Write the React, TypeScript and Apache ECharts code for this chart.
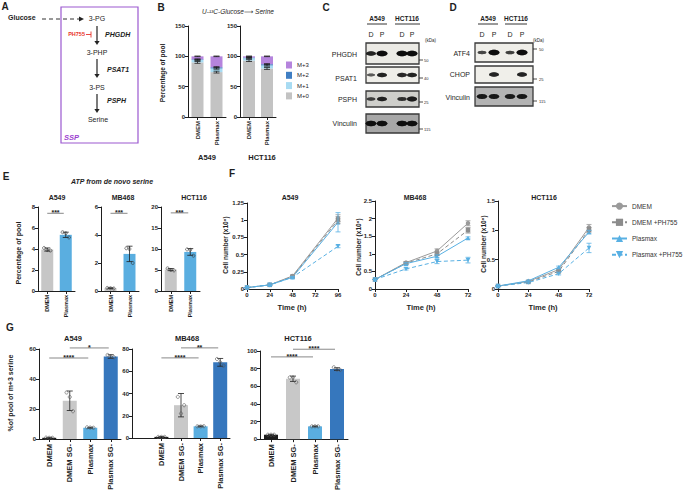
import React, { useEffect, useRef } from "react";
import * as echarts from "echarts";

const FONT = "'Liberation Sans', Arial, 'DejaVu Sans', sans-serif";
const INK = "#1e1e1e";

// ---------- Panel B : U-13C-glucose -> serine isotopologues ----------
const B_CATS = ["DMEM", "Plasmax"];
const B_CELL_LINES = ["A549", "HCT116"];
const B_ISOTOPOLOGUES = ["M+0", "M+1", "M+2", "M+3"];
const B_LEGEND_ORDER = ["M+3", "M+2", "M+1", "M+0"];
const B_COLORS = ["#c3c3c3", "#a8dbf2", "#3f7ec3", "#b584dd"];
const B_A549 = [[90, 74], [4, 6], [1, 2], [5, 18]];
const B_HCT116 = [[93, 80], [4, 5], [1, 2], [2, 13]];
const B_SD = [[1.5, 1.5], [1, 1.2], [0.8, 1], [0.5, 0.5]];

// ---------- Panel E : ATP from de novo serine ----------
const E_CATS = ["DMEM", "Plasmax"];
const E_CELL_LINES = ["A549", "MB468", "HCT116"];
const E_COLORS = ["#c6c6c6", "#5aaee0"];
const E_MEAN = [[3.95, 5.35], [0.2, 2.65], [5.1, 9.3]];
const E_SD = [[0.15, 0.25], [0.03, 0.55], [0.25, 0.8]];
const E_PTS = [
  [[4.1, 3.9, 3.85], [5.6, 5.5, 5.1]],
  [[0.22, 0.2, 0.18], [3.05, 3.0, 2.0]],
  [[5.4, 5.0, 4.9], [9.9, 9.8, 8.4]],
];
const E_YMAX = [8, 6, 20];
const E_YINT = [2, 2, 5];
const E_SIG_Y = [7.4, 5.55, 18.6];
const E_STARS = ["***", "***", "***"];

// ---------- Panel F : growth curves ----------
const F_CELL_LINES = ["A549", "MB468", "HCT116"];
const F_CONDITIONS = ["DMEM", "DMEM +PH755", "Plasmax", "Plasmax +PH755"];
const F_COLORS = ["#9a9a9a", "#8c8c8c", "#58b0e3", "#58b0e3"];
const F_SYMBOLS = ["circle", "rect", "triangle", "triangle"];
const F_DASHED = [false, true, false, true];
const F_TIMES = [[0, 24, 48, 96], [0, 24, 48, 72], [0, 24, 48, 72]];
const F_XMAX = [96, 72, 72];
const F_YMAX = [1.25, 2.5, 1.5];
const F_YINT = [0.25, 0.5, 0.5];
const F_MEAN = [
  [[0.02, 0.06, 0.19, 1.03], [0.02, 0.06, 0.18, 1.0], [0.02, 0.06, 0.17, 0.97], [0.02, 0.06, 0.17, 0.62]],
  [[0.27, 0.75, 1.08, 1.87], [0.27, 0.73, 1.0, 1.67], [0.27, 0.72, 0.93, 1.45], [0.27, 0.57, 0.78, 0.82]],
  [[0.05, 0.13, 0.33, 1.05], [0.05, 0.12, 0.3, 1.01], [0.05, 0.14, 0.37, 0.97], [0.05, 0.11, 0.26, 0.7]],
];
const F_SD = [
  [[0, 0.01, 0.01, 0.05], [0, 0.01, 0.01, 0.05], [0, 0.01, 0.01, 0.14], [0, 0.01, 0.01, 0.02]],
  [[0, 0.03, 0.06, 0.07], [0, 0.03, 0.05, 0.08], [0, 0.03, 0.04, 0.03], [0, 0.03, 0.06, 0.08]],
  [[0, 0.01, 0.02, 0.05], [0, 0.01, 0.02, 0.04], [0, 0.01, 0.02, 0.03], [0, 0.01, 0.02, 0.08]],
];

// ---------- Panel G : % of pool of m+3 serine ----------
const G_CATS = ["DMEM", "DMEM SG-", "Plasmax", "Plasmax SG-"];
const G_CELL_LINES = ["A549", "MB468", "HCT116"];
const G_COLORS = ["#1c1c1c", "#c8c8c8", "#5aaee0", "#3677bd"];
const G_MEAN = [[0.8, 25.5, 7.5, 55], [1, 29.5, 10.5, 68], [5, 68.5, 14.5, 79.5]];
const G_SD = [[0.3, 6.5, 0.3, 1.2], [0.3, 10.5, 0.4, 3.5], [0.5, 3, 0.5, 1.5]];
const G_PTS = [
  [[0.9, 0.8, 0.8], [31, 28, 18.5], [7.8, 7.6, 7.5], [56, 55, 54.5]],
  [[1, 1, 1], [37, 22, 29.5], [10.5, 10.4, 10.6], [71, 68, 65]],
  [[5, 5, 5], [70, 70, 64.5], [14.5, 14.6, 14.5], [81.5, 79, 78.5]],
];
const G_YMAX = [60, 80, 100];
const G_YINT = [20, 20, 20];
const G_SIG = [
  [[0, 2, 54], [1, 3, 60.7]],
  [[0, 2, 72], [1, 3, 81]],
  [[0, 2, 93.3], [1, 3, 102]],
];
const G_STARS = [["****", "*"], ["****", "**"], ["****", "****"]];

// ---------- Panels C & D : western blots ----------
const C_CELL_LINES = ["A549", "HCT116"];
const C_LANES = ["D", "P", "D", "P"];
const C_PROTEINS = ["PHGDH", "PSAT1", "PSPH", "Vinculin"];
const C_BANDS = [[0.75, 1, 1, 1], [0.3, 0.75, 0.7, 0.75], [0.45, 0.75, 0.6, 0.8], [0.95, 0.95, 0.95, 0.95]];
const C_MARKERS = ["50", "40", "25", "115"];
const D_PROTEINS = ["ATF4", "CHOP", "Vinculin"];
const D_BANDS = [[0.45, 1, 0.5, 1], [0, 0.75, 0, 0.75], [0.85, 0.85, 0.8, 0.85]];
const D_MARKERS = ["50", "25", "115"];

// ---------- Layout (pixels) ----------
const B_GRIDS = [
  { left: 188, top: 26, width: 38, height: 91 },
  { left: 240, top: 26, width: 36, height: 91 },
];
const E_GRIDS = [
  { left: 38, top: 207, width: 37, height: 84 },
  { left: 101, top: 207, width: 38, height: 84 },
  { left: 161, top: 207, width: 39, height: 84 },
];
const F_GRIDS = [
  { left: 247, top: 203, width: 91, height: 86 },
  { left: 375, top: 201, width: 93, height: 88 },
  { left: 498, top: 201, width: 91, height: 88 },
];
const G_GRIDS = [
  { left: 39, top: 349, width: 82, height: 90, pad: false },
  { left: 132, top: 349, width: 98, height: 89, pad: true },
  { left: 260, top: 351, width: 88, height: 89, pad: false },
];

const axisBase = {
  axisLine: { show: true, onZero: false, lineStyle: { color: INK, width: 1 } },
  axisTick: { show: true, length: 3, lineStyle: { color: INK, width: 1 } },
  splitLine: { show: false },
  axisLabel: { fontFamily: FONT, fontSize: 6, fontWeight: "bold", color: INK, margin: 3 },
};

function catX(cats: string[], extraLabel: any = {}, pad = false) {
  const filt = pad ? (i: number) => i > 0 : 0;
  return {
    type: "category",
    data: pad ? ["", ...cats] : cats,
    ...axisBase,
    axisTick: { ...axisBase.axisTick, alignWithLabel: true, interval: filt },
    axisLabel: { ...axisBase.axisLabel, rotate: 90, interval: filt, ...extraLabel },
  };
}
function valAxis(min: number, max: number, interval: number) {
  return { type: "value", min, max, interval, ...axisBase };
}

function errSeries(idx: number, data: number[][], color: string, cap: number, lw = 0.8, z = 6) {
  return {
    type: "custom",
    xAxisIndex: idx,
    yAxisIndex: idx,
    silent: true,
    clip: false,
    z,
    data,
    encode: { x: 0, y: 1 },
    renderItem: (params: any, api: any) => {
      const x = api.value(0), m = api.value(1), s = api.value(2);
      const t = api.coord([x, m + s]);
      const b = api.coord([x, m - s]);
      const st = () => ({ stroke: color, lineWidth: lw });
      return {
        type: "group",
        children: [
          { type: "line", shape: { x1: t[0], y1: t[1], x2: b[0], y2: b[1] }, style: st() },
          { type: "line", shape: { x1: t[0] - cap, y1: t[1], x2: t[0] + cap, y2: t[1] }, style: st() },
          { type: "line", shape: { x1: b[0] - cap, y1: b[1], x2: b[0] + cap, y2: b[1] }, style: st() },
        ],
      };
    },
  };
}

function ptsSeries(idx: number, pts: number[][], off: number, r = 1.6, stroke = "#333") {
  const data: number[][] = [];
  pts.forEach((arr, k) => arr.forEach((v, j) => data.push([k + off, v, j - (arr.length - 1) / 2])));
  return {
    type: "custom",
    xAxisIndex: idx,
    yAxisIndex: idx,
    silent: true,
    clip: false,
    z: 7,
    data,
    encode: { x: 0, y: 1 },
    renderItem: (params: any, api: any) => {
      const p = api.coord([api.value(0), api.value(1)]);
      return {
        type: "circle",
        shape: { cx: p[0] + api.value(2) * 3.2, cy: p[1], r },
        style: { fill: "none", stroke, lineWidth: 0.6 },
      };
    },
  };
}

function sigSeries(idx: number, rows: number[][], labels: string[], off: number) {
  return {
    type: "custom",
    xAxisIndex: idx,
    yAxisIndex: idx,
    silent: true,
    clip: false,
    z: 6,
    data: rows.map((r) => [r[0] + off, r[1] + off, r[2]]),
    encode: { x: 0, y: 2 },
    renderItem: (params: any, api: any) => {
      const a = api.coord([api.value(0), api.value(2)]);
      const b = api.coord([api.value(1), api.value(2)]);
      return {
        type: "group",
        children: [
          { type: "line", shape: { x1: a[0], y1: a[1], x2: b[0] - 2, y2: a[1] }, style: { stroke: "#6a6a6a", lineWidth: 0.8 } },
          {
            type: "text",
            x: (a[0] + b[0] - 2) / 2,
            y: a[1] + 3,
            style: { text: labels[params.dataIndex], fontFamily: FONT, fontSize: 7, fontWeight: "bold", fill: INK, align: "center", verticalAlign: "bottom" },
          },
        ],
      };
    },
  };
}

function T(x: number, y: number, text: string, o: any = {}) {
  return {
    type: "text",
    x,
    y,
    rotation: o.rot || 0,
    silent: true,
    style: {
      text,
      fontFamily: FONT,
      fontSize: o.size || 7,
      fontWeight: o.bold ? "bold" : "normal",
      fontStyle: o.italic ? "italic" : "normal",
      fill: o.color || INK,
      align: o.align || "center",
      verticalAlign: o.va || "middle",
    },
  };
}
function L(x1: number, y1: number, x2: number, y2: number, color = INK, w = 1, dash: any = null) {
  return { type: "line", silent: true, shape: { x1, y1, x2, y2 }, style: { stroke: color, lineWidth: w, lineDash: dash } };
}
function arrowDown(x: number, y1: number, y2: number) {
  return [
    L(x, y1, x, y2 - 3, "#222", 1.2),
    { type: "polygon", silent: true, shape: { points: [[x - 2.6, y2 - 4], [x + 2.6, y2 - 4], [x, y2]] }, style: { fill: "#222" } },
  ];
}

function blot(boxes: number[][], x0: number, x1: number, lanes: number[], bands: number[][], bgs: string[]) {
  const els: any[] = [];
  boxes.forEach((b, r) => {
    els.push({ type: "rect", silent: true, shape: { x: x0, y: b[0], width: x1 - x0, height: b[1] - b[0] }, style: { fill: bgs[r], stroke: "#3a3a3a", lineWidth: 1.3 } });
    const cy = (b[0] + b[1]) / 2;
    bands[r].forEach((I, li) => {
      if (I <= 0) return;
      els.push({
        type: "ellipse",
        silent: true,
        shape: { cx: lanes[li], cy, rx: 3.5 + 2 * I, ry: 0.8 + 2 * I },
        style: { fill: `rgba(12,12,12,${0.35 + 0.65 * I})`, shadowBlur: 1.5, shadowColor: "rgba(0,0,0,0.5)" },
      });
    });
  });
  return els;
}

function buildOption() {
  const grids: any[] = [], xAxes: any[] = [], yAxes: any[] = [], series: any[] = [];
  const addGrid = (g: any, xa: any, ya: any) => {
    const i = grids.length;
    grids.push({ left: g.left, top: g.top, width: g.width, height: g.height, containLabel: false });
    xAxes.push({ gridIndex: i, ...xa });
    yAxes.push({ gridIndex: i, ...ya });
    return i;
  };

  // Panel B
  B_CELL_LINES.forEach((cl, gi) => {
    const data = gi === 0 ? B_A549 : B_HCT116;
    const idx = addGrid(B_GRIDS[gi], catX(B_CATS, { fontSize: 6, margin: 4 }), valAxis(0, 150, 50));
    B_ISOTOPOLOGUES.forEach((iso, k) =>
      series.push({ type: "bar", name: iso, stack: "b" + gi, xAxisIndex: idx, yAxisIndex: idx, barWidth: 12, data: data[k], itemStyle: { color: B_COLORS[k] } })
    );
    const err: number[][] = [];
    B_CATS.forEach((c, ci) => {
      let cum = 0;
      B_ISOTOPOLOGUES.forEach((iso, k) => {
        cum += data[k][ci];
        err.push([ci, cum, B_SD[k][ci]]);
      });
    });
    series.push(errSeries(idx, err, INK, 3, 0.8));
  });

  // Panel E
  E_CELL_LINES.forEach((cl, gi) => {
    const idx = addGrid(E_GRIDS[gi], catX(E_CATS, { fontSize: 5.5, margin: 4 }), valAxis(0, E_YMAX[gi], E_YINT[gi]));
    series.push({ type: "bar", xAxisIndex: idx, yAxisIndex: idx, barWidth: 12, data: E_MEAN[gi].map((v, k) => ({ value: v, itemStyle: { color: E_COLORS[k] } })) });
    series.push(errSeries(idx, E_MEAN[gi].map((m, k) => [k, m, E_SD[gi][k]]), INK, 3, 0.8));
    series.push(ptsSeries(idx, E_PTS[gi], 0, 1.5));
    series.push(sigSeries(idx, [[0, 1, E_SIG_Y[gi]]], [E_STARS[gi]], 0));
  });

  // Panel F
  F_CELL_LINES.forEach((cl, gi) => {
    const idx = addGrid(F_GRIDS[gi], valAxis(0, F_XMAX[gi], 24), valAxis(0, F_YMAX[gi], F_YINT[gi]));
    F_CONDITIONS.forEach((cond, k) => {
      series.push({
        type: "line",
        name: cond,
        xAxisIndex: idx,
        yAxisIndex: idx,
        data: F_TIMES[gi].map((t, j) => [t, F_MEAN[gi][k][j]]),
        symbol: F_SYMBOLS[k],
        symbolRotate: k === 3 ? 180 : 0,
        symbolSize: 4.5,
        showSymbol: true,
        lineStyle: { color: F_COLORS[k], width: 1, type: F_DASHED[k] ? [4, 2.5] : "solid" },
        itemStyle: { color: F_COLORS[k] },
        z: 3,
      });
      series.push(errSeries(idx, F_TIMES[gi].map((t, j) => [t, F_MEAN[gi][k][j], F_SD[gi][k][j]]), F_COLORS[k], 2.5, 0.8, 4));
    });
  });

  // Panel G
  G_CELL_LINES.forEach((cl, gi) => {
    const g = G_GRIDS[gi];
    const off = g.pad ? 1 : 0;
    const idx = addGrid(g, catX(G_CATS, { fontSize: 7.5, margin: 5 }, g.pad), valAxis(0, G_YMAX[gi], G_YINT[gi]));
    const bars: any[] = G_MEAN[gi].map((v, k) => ({ value: v, itemStyle: { color: G_COLORS[k] } }));
    if (g.pad) bars.unshift("-");
    series.push({ type: "bar", xAxisIndex: idx, yAxisIndex: idx, barWidth: 14, data: bars });
    series.push(errSeries(idx, G_MEAN[gi].map((m, k) => [k + off, m, G_SD[gi][k]]), INK, 3, 0.8));
    series.push(ptsSeries(idx, G_PTS[gi], off, 1.6, "#555"));
    series.push(sigSeries(idx, G_SIG[gi], G_STARS[gi], off));
  });

  // ---------- graphics ----------
  const gr: any[] = [];
  // panel letters
  [["A", 5, 6], ["B", 161, 7], ["C", 326, 7], ["D", 453, 7], ["E", 6, 176], ["F", 232, 173], ["G", 10, 327]].forEach(([t, x, y]: any) =>
    gr.push(T(x, y, t, { size: 10, bold: true }))
  );

  // Panel A pathway
  gr.push({ type: "rect", silent: true, shape: { x: 61, y: 7, width: 77, height: 136 }, style: { fill: "none", stroke: "#9b59d0", lineWidth: 1.2 } });
  gr.push(T(8, 17, "Glucose", { bold: true, align: "left", size: 7 }));
  gr.push(L(42, 19, 80, 19, "#333", 1, [4, 3]));
  gr.push({ type: "polygon", silent: true, shape: { points: [[79, 16.6], [84, 19], [79, 21.4]] }, style: { fill: "#222" } });
  gr.push(T(97, 18, "3-PG", { size: 7 }));
  gr.push(...arrowDown(97, 26, 45));
  gr.push(T(85, 34, "PH755", { size: 5.5, bold: true, color: "#e8332a", align: "right" }));
  gr.push(L(86, 34.5, 91, 34.5, "#e8332a", 0.9));
  gr.push(L(91, 31.5, 91, 37.5, "#e8332a", 0.9));
  gr.push(T(105, 34, "PHGDH", { size: 7, bold: true, italic: true, align: "left" }));
  gr.push(T(97, 52, "3-PHP", { size: 7 }));
  gr.push(...arrowDown(97, 59, 78));
  gr.push(T(107, 69, "PSAT1", { size: 7, bold: true, italic: true, align: "left" }));
  gr.push(T(97, 87, "3-PS", { size: 7 }));
  gr.push(...arrowDown(97, 94, 113));
  gr.push(T(107, 100, "PSPH", { size: 7, bold: true, italic: true, align: "left" }));
  gr.push(T(98, 119, "Serine", { size: 7 }));
  gr.push(T(64, 137, "SSP", { size: 7.5, bold: true, italic: true, color: "#9b3fd0", align: "left" }));

  // Panel B texts
  gr.push(T(238, 11, "U-¹³C-Glucose⟶ Serine", { size: 6.5, italic: true }));
  gr.push(T(162, 73, "Percentage of pool", { size: 6.5, bold: true, rot: Math.PI / 2 }));
  gr.push(T(207, 157, B_CELL_LINES[0], { size: 7.5, bold: true }));
  gr.push(T(262, 157, B_CELL_LINES[1], { size: 7.5, bold: true }));

  // Panel C blot
  const cLanes = [371, 382, 402, 412];
  gr.push(T(377, 18, C_CELL_LINES[0], { size: 6.5, bold: true }));
  gr.push(L(367, 24, 387, 24, INK, 0.9));
  gr.push(T(407, 18, C_CELL_LINES[1], { size: 6.5, bold: true }));
  gr.push(L(395, 24, 420, 24, INK, 0.9));
  C_LANES.forEach((t, i) => gr.push(T(cLanes[i], 34, t, { size: 7 })));
  gr.push(T(425, 40, "(kDa)", { size: 4.5, align: "left" }));
  const cBoxes = [[43, 64], [67, 83], [91, 107], [114, 133]];
  gr.push(...blot(cBoxes, 366, 419, cLanes, C_BANDS, ["#ebeae5", "#efeee9", "#cfcfcb", "#a7a7a7"]));
  const cLabelY = [54, 78, 99, 123];
  const cMarkY = [60, 78, 102, 129];
  C_PROTEINS.forEach((p, i) => {
    gr.push(T(357, cLabelY[i], p, { size: 7, align: "right" }));
    gr.push(L(419, cMarkY[i], 423, cMarkY[i], INK, 0.8));
    gr.push(T(424, cMarkY[i], C_MARKERS[i], { size: 4, align: "left" }));
  });

  // Panel D blot
  const dLanes = [482, 494, 510, 522];
  gr.push(T(488, 18, C_CELL_LINES[0], { size: 6.5, bold: true }));
  gr.push(L(478, 24, 498, 24, INK, 0.9));
  gr.push(T(516, 18, C_CELL_LINES[1], { size: 6.5, bold: true }));
  gr.push(L(505, 24, 527, 24, INK, 0.9));
  C_LANES.forEach((t, i) => gr.push(T(dLanes[i], 34, t, { size: 7 })));
  gr.push(T(533, 40, "(kDa)", { size: 4.5, align: "left" }));
  const dBoxes = [[43, 62], [66, 83], [87, 106]];
  gr.push(...blot(dBoxes, 475, 533, dLanes, D_BANDS, ["#efeee9", "#f0efea", "#b3b3b3"]));
  const dLabelY = [53, 74, 97];
  const dMarkY = [49, 79, 101];
  D_PROTEINS.forEach((p, i) => {
    gr.push(T(470, dLabelY[i], p, { size: 7, align: "right" }));
    gr.push(L(533, dMarkY[i], 537, dMarkY[i], INK, 0.8));
    gr.push(T(539, dMarkY[i], D_MARKERS[i], { size: 4, align: "left" }));
  });

  // Panel E texts
  gr.push(T(112, 181, "ATP from de novo serine", { size: 7, bold: true, italic: true }));
  [57, 123, 194].forEach((x, i) => gr.push(T(x, 197, E_CELL_LINES[i], { size: 7, bold: true })));
  gr.push(T(18, 253, "Percentage of pool", { size: 7, bold: true, rot: Math.PI / 2 }));

  // Panel F texts
  [290, 415, 544].forEach((x, i) => gr.push(T(x, 197, F_CELL_LINES[i], { size: 7, bold: true })));
  [292, 421, 543].forEach((x) => gr.push(T(x, 307, "Time (h)", { size: 7.5, bold: true })));
  [[225, 245], [358, 247], [483, 244]].forEach(([x, y]) => gr.push(T(x, y, "Cell number (x10⁶)", { size: 6.5, bold: true, rot: Math.PI / 2 })));

  // Panel G texts
  [73, 187, 298].forEach((x, i) => gr.push(T(x, 338, G_CELL_LINES[i], { size: 7.5, bold: true })));
  gr.push(T(10, 393, "%of pool of m+3 serine", { size: 7, bold: true, rot: Math.PI / 2 }));

  return {
    animation: false,
    backgroundColor: "#ffffff",
    textStyle: { fontFamily: FONT },
    grid: grids,
    xAxis: xAxes,
    yAxis: yAxes,
    series,
    legend: [
      {
        data: B_LEGEND_ORDER,
        orient: "vertical",
        left: 281,
        top: 56.5,
        itemWidth: 6,
        itemHeight: 7,
        itemGap: 3.3,
        icon: "rect",
        selectedMode: false,
        textStyle: { fontFamily: FONT, fontSize: 6, color: INK },
      },
      {
        data: F_CONDITIONS,
        orient: "vertical",
        left: 611,
        top: 202.5,
        width: 74,
        padding: 0,
        itemWidth: 15,
        itemHeight: 9,
        itemGap: 9,
        selectedMode: false,
        textStyle: { fontFamily: FONT, fontSize: 6.5, color: "#333", width: 58, overflow: "none" },
      },
    ],
    graphic: gr,
  };
}

export default function App() {
  const ref = useRef<HTMLDivElement>(null);
  useEffect(() => {
    if (!ref.current) return;
    const chart = echarts.init(ref.current, null, { renderer: "svg" });
    chart.setOption(buildOption() as any);
    return () => chart.dispose();
  }, []);
  return <div ref={ref} style={{ position: "absolute", left: 0, top: 0, width: 685, height: 493, background: "#fff" }} />;
}
